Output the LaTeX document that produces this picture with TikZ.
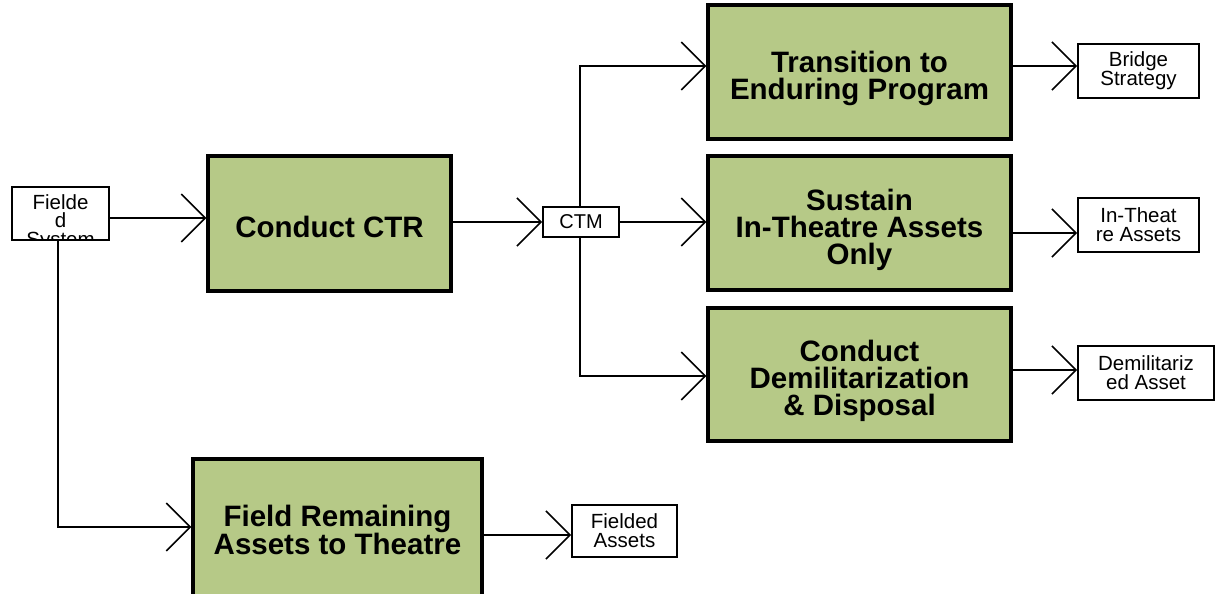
\documentclass[tikz,border=0pt]{standalone}
\usepackage{fontspec}
\setmainfont{Liberation Sans}
\usetikzlibrary{arrows.meta}
\definecolor{boxgreen}{RGB}{182,201,135}
\tikzset{
  bigbox/.style={draw=black, line width=3.2pt, fill=boxgreen, inner sep=0pt},
  bigtext/.style={inner sep=0pt, align=center, font=\fontsize{29.5}{27}\selectfont\bfseries},
  smallbox/.style={draw=black, line width=1.8pt, fill=white, inner sep=0pt, align=center,
    font=\fontsize{20.5}{19}\selectfont},
  conn/.style={line width=1.6pt, -{Straight Barb[length=24pt,width=48pt,line width=1.6pt]}}
}
\begin{document}
\begin{tikzpicture}[x=1pt,y=-1pt]
\useasboundingbox (0,0) rectangle (1216,594);
% boxes
\node[smallbox, minimum width=97pt, minimum height=53pt] (fs) at (60.5,213.5) {};
\begin{scope}
  \clip (fs.south west) rectangle (fs.north east);
  \node[inner sep=0pt, align=center, font=\fontsize{20.5}{18.5}\selectfont] (fstext) at (60.5,222.5) {Fielde\\d\\System};
\end{scope}
\node[bigbox, minimum width=243pt, minimum height=135pt] (ctr) at (329.5,223.5) {};
\node[bigtext] (ctrt) at ([yshift=-3pt]ctr.center) {Conduct CTR};
\node[bigbox, minimum width=289pt, minimum height=142pt] (frem) at (337.5,530) {};
\node[bigtext] (fremt) at (frem.center) {Field Remaining\\Assets to Theatre};
\node[smallbox, minimum width=105pt, minimum height=52pt] (fa) at (624.5,531) {Fielded\\Assets};
\node[smallbox, minimum width=76pt, minimum height=30pt, font=\fontsize{20}{20}\selectfont] (ctm) at (581,222) {CTM};
\node[bigbox, minimum width=303pt, minimum height=134pt] (trans) at (859.5,72) {};
\node[bigtext] (transt) at ([yshift=-6pt]trans.center) {Transition to\\Enduring Program};
\node[bigbox, minimum width=303pt, minimum height=134pt] (sus) at (859.5,223) {};
\node[bigtext] (sust) at ([yshift=-6.5pt]sus.center) {Sustain\\In-Theatre Assets\\Only};
\node[bigbox, minimum width=303pt, minimum height=133pt] (dem) at (859.5,374.5) {};
\node[bigtext] (demt) at ([yshift=-6.5pt]dem.center) {Conduct\\Demilitarization\\\& Disposal};
\node[smallbox, minimum width=121pt, minimum height=54pt] (bridge) at (1138.5,71) {Bridge\\Strategy};
\node[smallbox, minimum width=121pt, minimum height=54pt] (inth) at (1138.5,225) {In-Theat\\re Assets};
\node[smallbox, minimum width=136pt, minimum height=54pt] (dema) at (1146,373) {Demilitariz\\ed Asset};
% connectors
\coordinate (fsdown) at (58,527);
\coordinate (ctmup) at (580,66);
\coordinate (ctmdown) at (580,376);
\draw[conn] (fs.east |- 0,218) -- (ctr.west |- 0,218);
\draw[conn] (fs.south -| fsdown) -- (fsdown) -- (frem.west |- fsdown);
\draw[conn] (frem.east |- 0,535) -- (fa.west |- 0,535);
\draw[conn] (ctr.east |- ctm.west) -- (ctm.west);
\draw[conn] (ctm.east) -- (sus.west |- ctm.east);
\draw[conn] (ctm.north -| ctmup) -- (ctmup) -- (trans.west |- ctmup);
\draw[conn] (ctm.south -| ctmdown) -- (ctmdown) -- (dem.west |- ctmdown);
\draw[conn] (trans.east |- 0,66) -- (bridge.west |- 0,66);
\draw[conn] (sus.east |- 0,233) -- (inth.west |- 0,233);
\draw[conn] (dem.east |- 0,370) -- (dema.west |- 0,370);
\end{tikzpicture}
\end{document}
